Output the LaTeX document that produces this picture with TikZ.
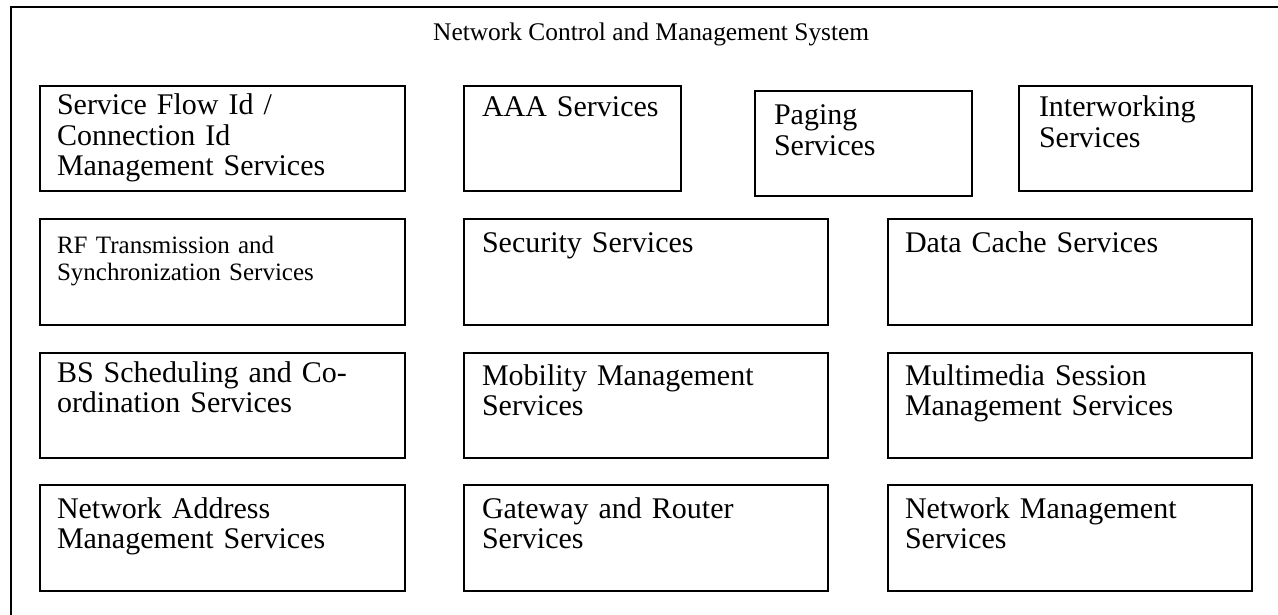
\documentclass[tikz,border=0pt]{standalone}
\usepackage{fontspec}
\setmainfont{Liberation Serif}
\newcommand\bxfont{\fontsize{30}{30.5}\selectfont}
\newcommand\smbxfont{\fontsize{25}{27}\selectfont}
\newcommand\ttlfont{\fontsize{25.4}{27}\selectfont}
\begin{document}
\begin{tikzpicture}[x=1pt,y=-1pt,
  box/.style={draw, line width=2.4pt, inner sep=0pt, outer sep=0pt, anchor=north west},
  lbl/.style={anchor=base west, inner sep=0pt, outer sep=0pt, text width=330pt, align=left, font=\bxfont},
  smlbl/.style={lbl, font=\smbxfont}]
\useasboundingbox (0,0) rectangle (1278,615);
\clip (0,0) rectangle (1278,615);
\fill[white] (0,0) rectangle (1278,615);
% outer frame (extends beyond the picture on right and bottom)
\node[box, line width=2.6pt, minimum width=1300pt, minimum height=640pt] (frame) at (11,7) {};
\node[anchor=base west, inner sep=0pt, font=\ttlfont] (title) at (433,41) {Network Control and Management System};
% row 1
\node[box, minimum width=365pt, minimum height=105pt] (sfb) at (40,86) {};
\node[lbl] (sf) at (57,115) {Service Flow Id /\\Connection Id\\Management Services};
\node[box, minimum width=217pt, minimum height=105pt] (aaab) at (464,86) {};
\node[lbl] (aaa) at (482,117) {AAA Services};
\node[box, minimum width=217pt, minimum height=105pt] (pgb) at (755,91) {};
\node[lbl] (pg) at (774,125) {Paging\\Services};
\node[box, minimum width=233pt, minimum height=105pt] (iwb) at (1019,86) {};
\node[lbl] (iw) at (1039,117) {Interworking\\Services};
% row 2
\node[box, minimum width=365pt, minimum height=106pt] (rfb) at (40,219) {};
\node[smlbl] (rf) at (57,253) {RF Transmission and\\Synchronization Services};
\node[box, minimum width=364pt, minimum height=106pt] (secb) at (464,219) {};
\node[lbl] (sec) at (482,252) {Security Services};
\node[box, minimum width=364pt, minimum height=106pt] (dcb) at (888,219) {};
\node[lbl] (dc) at (905,252) {Data Cache Services};
% row 3
\node[box, minimum width=365pt, minimum height=105pt] (bsb) at (40,353) {};
\node[lbl] (bs) at (57,382) {BS Scheduling and Co-\\ordination Services};
\node[box, minimum width=364pt, minimum height=105pt] (mobb) at (464,353) {};
\node[lbl] (mob) at (482,385) {Mobility Management\\Services};
\node[box, minimum width=364pt, minimum height=105pt] (mmb) at (888,353) {};
\node[lbl] (mm) at (905,385) {Multimedia Session\\Management Services};
% row 4
\node[box, minimum width=365pt, minimum height=106pt] (nab) at (40,485) {};
\node[lbl] (na) at (57,518) {Network Address\\Management Services};
\node[box, minimum width=364pt, minimum height=106pt] (gwb) at (464,485) {};
\node[lbl] (gw) at (482,518) {Gateway and Router\\Services};
\node[box, minimum width=364pt, minimum height=106pt] (nmb) at (888,485) {};
\node[lbl] (nm) at (905,518) {Network Management\\Services};
\end{tikzpicture}
\end{document}
